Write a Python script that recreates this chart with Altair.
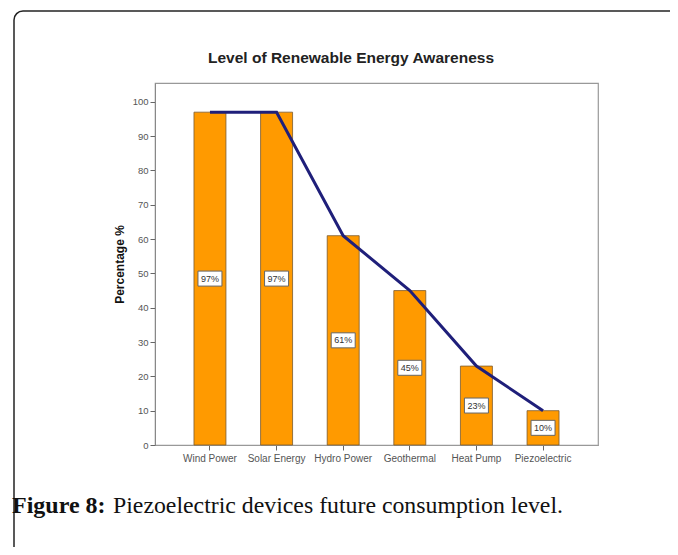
import altair as alt
import pandas as pd

categories = ["Wind Power", "Solar Energy", "Hydro Power", "Geothermal", "Heat Pump", "Piezoelectric"]
values = [97, 97, 61, 45, 23, 10]
labels = ["97%", "97%", "61%", "45%", "23%", "10%"]
y_ticks = [0, 10, 20, 30, 40, 50, 60, 70, 80, 90, 100]

title_text = "Level of Renewable Energy Awareness"
caption_bold = "Figure 8:"
caption_rest = "Piezoelectric devices future consumption level."

df = pd.DataFrame({"cat": categories, "val": values, "lab": labels})
df["mid"] = df["val"] / 2

W, H = 443, 362
PL, PT = 147, 75
OX, OY = 155, 83

xscale = alt.Scale(paddingInner=0.52, paddingOuter=0.585)
xaxis = alt.Axis(title=None, labelAngle=0, labelFontSize=10,
                 labelColor="#555", labelFont="Liberation Sans",
                 tickColor="#666", tickSize=5, domainColor="#999",
                 labelPadding=3)
yscale = alt.Scale(domain=[0, 105.5], nice=False)
yaxis = alt.Axis(values=y_ticks, tickCount=11, title="Percentage %", grid=False,
                 labelOverlap=False,
                 labelFontSize=9.5, labelColor="#555", labelFont="Liberation Sans",
                 tickColor="#666", tickSize=5, domainColor="#888",
                 titleFont="Liberation Sans", titleFontSize=12,
                 titleFontWeight="bold", titleColor="#111", titlePadding=6,
                 labelPadding=2)


def X():
    return alt.X("cat:N", sort=categories, scale=xscale, axis=xaxis)


def Y(field):
    return alt.Y(field, scale=yscale, axis=yaxis)


base = alt.Chart(df)

bars = base.mark_bar(color="#FF9A00", stroke="#7a5a30", strokeWidth=0.8).encode(
    x=X(), y=Y("val:Q"))

line = base.mark_line(color="#1f1f7a", strokeWidth=3).encode(
    x=X(), y=Y("val:Q"))

boxes = base.mark_point(
    shape="M-1.2,-0.75L1.2,-0.75L1.2,0.75L-1.2,0.75Z",
    size=400, filled=True, fill="white", stroke="#666", strokeWidth=1, opacity=1,
).encode(x=X(), y=Y("mid:Q"))

texts = base.mark_text(font="Liberation Sans", fontSize=9, color="#333").encode(
    x=X(), y=Y("mid:Q"), text="lab:N")

one = pd.DataFrame({"a": [0]})
R = 9
FX, FY = 14 - OX, 11 - OY

top_rule = alt.Chart(one).mark_rule(stroke="#222", strokeWidth=1.5).encode(
    x=alt.value(FX + R), x2=alt.value(2000), y=alt.value(FY))
left_rule = alt.Chart(one).mark_rule(stroke="#222", strokeWidth=1.5).encode(
    x=alt.value(FX), y=alt.value(FY + R), y2=alt.value(2000))
corner = alt.Chart(one).mark_arc(
    fill=None, fillOpacity=0, stroke="#222", strokeWidth=1.5
).encode(
    x=alt.value(FX + R), y=alt.value(FY + R),
    radius=alt.value(R), radius2=alt.value(R),
    theta=alt.value(4.712389), theta2=alt.value(6.283185),
)

title = alt.Chart(one).mark_text(
    text=title_text, font="Liberation Sans", fontSize=15.5, fontWeight="bold", color="#222"
).encode(x=alt.value(351 - OX), y=alt.value(58 - OY))

cap1 = alt.Chart(one).mark_text(
    text=caption_bold, font="Liberation Serif", fontSize=24, fontWeight="bold",
    color="#111", align="left", baseline="alphabetic"
).encode(x=alt.value(12 - OX), y=alt.value(513 - OY))

cap2 = alt.Chart(one).mark_text(
    text=caption_rest, font="Liberation Serif", fontSize=23.8,
    color="#111", align="left", baseline="alphabetic"
).encode(x=alt.value(113 - OX), y=alt.value(513 - OY))

chart = alt.layer(bars, line, boxes, texts, top_rule, left_rule, corner, title, cap1, cap2).properties(
    width=W, height=H,
    autosize=alt.AutoSizeParams(type="none"),
    padding={"left": PL, "top": PT, "right": 662 - PL - W, "bottom": 539 - PT - H},
).configure_view(stroke="#999", strokeWidth=1.2)

chart.save("out.html", embed_options={"renderer": "svg", "actions": False})
